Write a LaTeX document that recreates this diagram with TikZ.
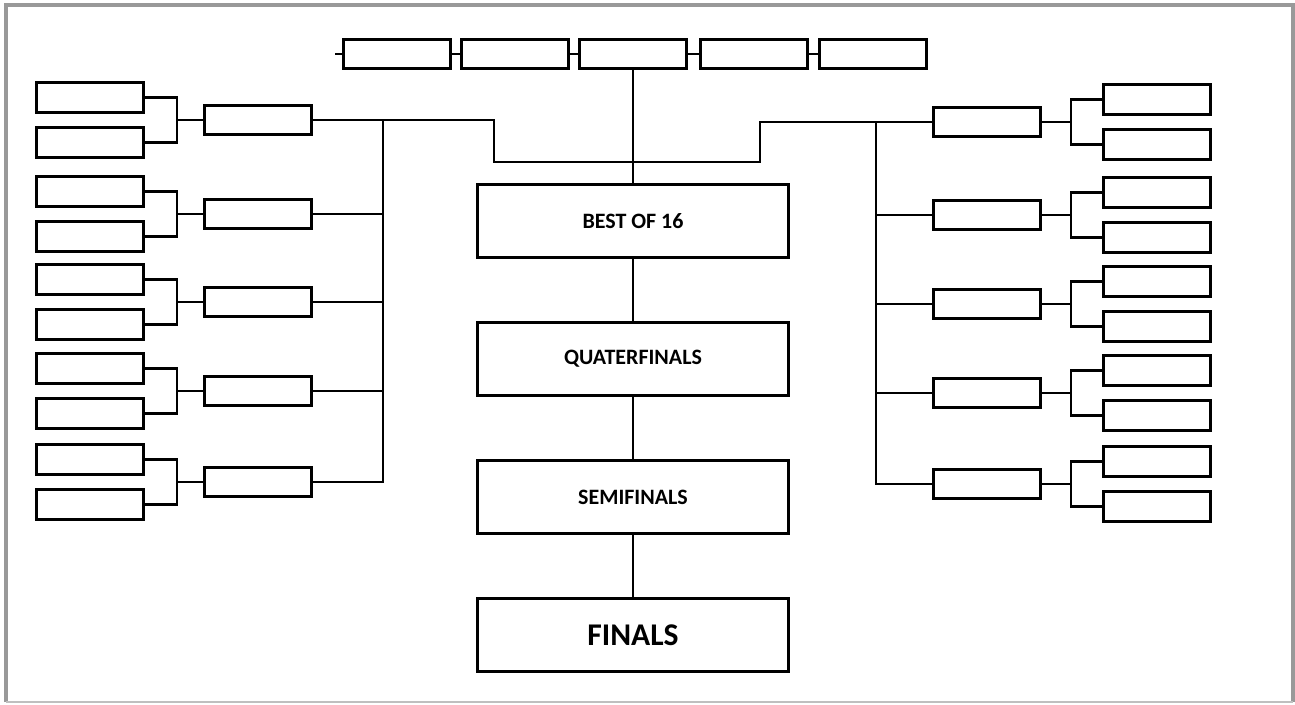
\documentclass[tikz,border=0pt]{standalone}
\usepackage{fontspec}
\setmainfont{Carlito}
\usetikzlibrary{positioning}

\begin{document}
\begin{tikzpicture}[
    x=0.02cm, y=-0.02cm,
    slot/.style={rectangle, draw, line width=1.6pt, minimum width=2.14cm, minimum height=0.59cm, inner sep=0pt},
    stage/.style={rectangle, draw, line width=1.6pt, minimum width=6.22cm, minimum height=1.46cm, align=center, font=\bfseries\fontsize{12.5}{15}\selectfont},
    link/.style={line width=1.6pt}
  ]
    \useasboundingbox (0,0) rectangle (1295,704);
    % outer frame
    \draw[gray!80, line width=2pt] (6,702) -- (6,5) -- (1293,5) -- (1293,702);
    \draw[gray!50, line width=1pt] (6,702) -- (1293,702);

    % top row
    \foreach \x [count=\i] in {397,515,633,754,873}
      \node[slot] (top\i) at (\x,54) {};
    \coordinate (tick) at (335,54);
    \draw[link] (tick) -- (top1) (top1) -- (top2) (top2) -- (top3) (top3) -- (top4) (top4) -- (top5);

    % centre column
    \node[stage] (best) at (633,221) {BEST OF 16};
    \node[stage] (quarter) at (633,359) {QUATERFINALS};
    \node[stage] (semi) at (633,497) {SEMIFINALS};
    \node[stage, font=\bfseries\fontsize{18}{21}\selectfont] (final) at (633,635) {FINALS};
    \draw[link] (top3) -- (best);
    \draw[link] (best) -- (quarter);
    \draw[link] (quarter) -- (semi);
    \draw[link] (semi) -- (final);

    % left side
    \foreach \y [count=\i] in {120,214,302,391,482} {
      \node[slot] (lq\i) at (258,\y) {};
      \node[slot] (la\i) at (90,\y-22.5) {};
      \node[slot] (lb\i) at (90,\y+22.5) {};
      \coordinate (lj\i) at (177,\y);
      \draw[link] (la\i.east) -| (lj\i) |- (lb\i.east);
      \draw[link] (lj\i) -- (lq\i.west);
    }

    % right side
    \foreach \y [count=\i] in {122,215,304,393,484} {
      \node[slot] (rq\i) at (987,\y) {};
      \node[slot] (ra\i) at (1157,\y-22.5) {};
      \node[slot] (rb\i) at (1157,\y+22.5) {};
      \coordinate (rj\i) at (1071,\y);
      \draw[link] (ra\i.west) -| (rj\i) |- (rb\i.west);
      \draw[link] (rj\i) -- (rq\i.east);
    }

    % buses into the top row
    \coordinate (busL) at (383,120);
    \coordinate (busR) at (876,122);
    \coordinate (stepL) at (494,162);
    \coordinate (stepR) at (760,162);
    \draw[link] (lq1.east) -| (stepL) -- (stepR) |- (rq1.west);
    \draw[link] (lq5.east) -| (busL);
    \draw[link] (rq5.west) -| (busR);
    \foreach \i in {2,3,4} {
      \draw[link] (lq\i.east) -- (lq\i.east -| busL);
      \draw[link] (rq\i.west) -- (rq\i.west -| busR);
    }
  \end{tikzpicture}
\end{document}
